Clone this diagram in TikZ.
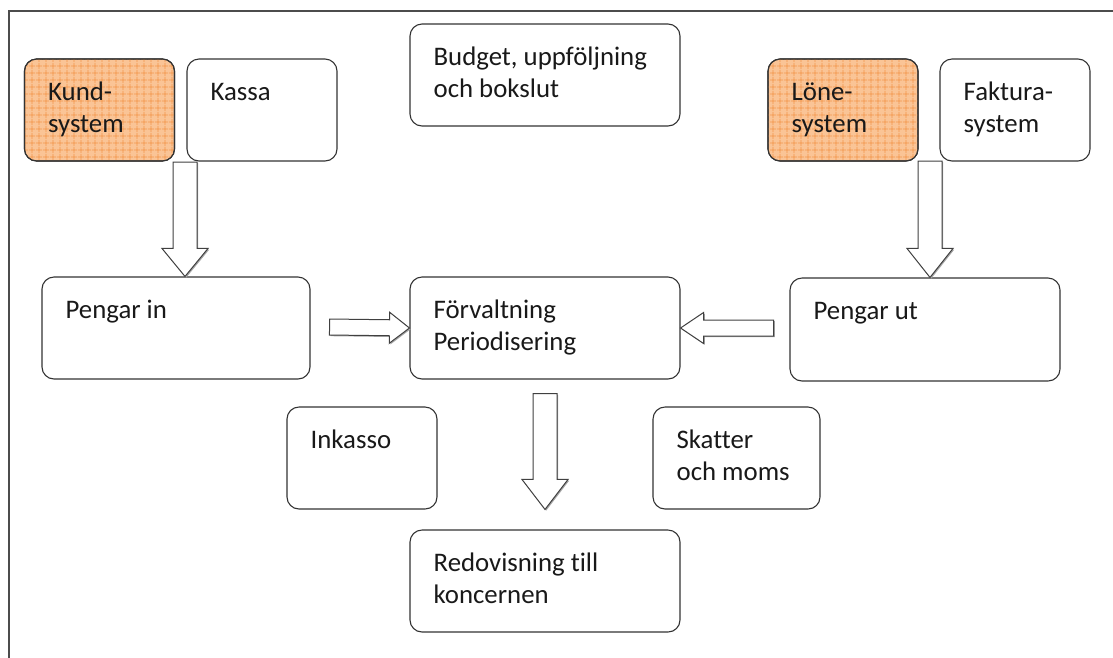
\documentclass[tikz,border=0pt]{standalone}
\usepackage{fontspec}
\setmainfont[Ligatures=NoCommon]{Carlito}
\usetikzlibrary{positioning,calc,patterns.meta,shadows}

\definecolor{sysfill}{RGB}{250,196,150}
\definecolor{sysgrid}{RGB}{243,150,75}

% hollow block arrow: from, to, half shaft, half head, head length
\newcommand{\blockarrow}[5]{%
  \draw[blockarrow] let \p1=(#1), \p2=(#2),
    \n1={atan2(\y2-\y1,\x2-\x1)}, \n2={veclen(\x2-\x1,\y2-\y1)-#5} in
    ($(#1)+({\n1+90}:#3)$) -- ($(#1)+(\n1:\n2)+({\n1+90}:#3)$)
    -- ($(#1)+(\n1:\n2)+({\n1+90}:#4)$) -- (#2)
    -- ($(#1)+(\n1:\n2)+({\n1-90}:#4)$) -- ($(#1)+(\n1:\n2)+({\n1-90}:#3)$)
    -- ($(#1)+({\n1-90}:#3)$) -- cycle;}

\begin{document}
\begin{tikzpicture}[x=1pt,y=-1pt,
  box/.style={draw=black!80, line width=1.1pt, rounded corners=12pt, fill=white,
    minimum width=150pt, minimum height=102pt, inner sep=0pt},
  wide/.style={box, minimum width=270pt},
  sysbox/.style={box, fill=sysfill,
    postaction={pattern={Hatch[distance=6.5pt,line width=.7pt]}, pattern color=sysgrid},
    postaction={draw=black!80, line width=1.1pt}},
  boxtext/.style={anchor=north west, inner sep=0pt, align=left,
    font=\fontsize{26.8}{32}\selectfont, text=black!90},
  blockarrow/.style={draw=black!75, fill=white, line width=1pt,
    drop shadow={shadow xshift=1.2pt, shadow yshift=-1.2pt, fill=black!35, opacity=1}}]

\useasboundingbox (0,0) rectangle (1113,657);
\draw[line width=1.8pt, black!70] (9,700) -- (9,11) -- (1150,11);

% top row
\node[sysbox] (kund) at (99.5,110) {};
\node[box] (kassa) at (262,110) {};
\node[wide] (budget) at (545,75) {};
\node[sysbox] (lone) at (843,110) {};
\node[box] (faktura) at (1015,110) {};

% middle row
\node[wide, minimum width=268pt] (pengarin) at (176,328) {};
\node[wide] (forv) at (545,328) {};
\node[wide, minimum height=103pt] (pengarut) at (925,329.5) {};

% bottom
\node[box] (inkasso) at (362,458) {};
\node[box, minimum width=167pt] (skatter) at (736.5,458) {};
\node[wide] (redov) at (545,581) {};

\foreach \n/\t in {kund/{Kund-\\system}, kassa/Kassa, budget/{Budget, uppföljning\\och bokslut},
    lone/{Löne-\\system}, faktura/{Faktura-\\system}, pengarin/{Pengar in},
    forv/{Förvaltning\\Periodisering}, pengarut/{Pengar ut}, inkasso/Inkasso,
    skatter/{Skatter\\och moms}, redov/{Redovisning till\\koncernen}}
  \node[boxtext] (\n-text) at ($(\n.north west)+(24,19)$) {\strut\t};

% arrows
\coordinate (kassaout) at (185,162);
\coordinate (loneout) at (930,161);
\coordinate (inout) at ($(pengarin.east)+(19,-1)$);
\coordinate (utout) at ($(forv.east)+(93,0)$);
\coordinate (forvout) at ($(forv.south)+(0,14)$);
\coordinate (redovin) at ($(redov.north)+(0,-20)$);

\blockarrow{kassaout}{kassaout |- pengarin.north}{12pt}{23pt}{28pt}
\blockarrow{loneout}{loneout |- pengarut.north}{12pt}{23pt}{29pt}
\blockarrow{inout}{forv.west}{8pt}{15.5pt}{20pt}
\blockarrow{utout}{forv.east}{8pt}{15.5pt}{23pt}
\blockarrow{forvout}{redovin}{12pt}{23pt}{30pt}

\end{tikzpicture}
\end{document}
